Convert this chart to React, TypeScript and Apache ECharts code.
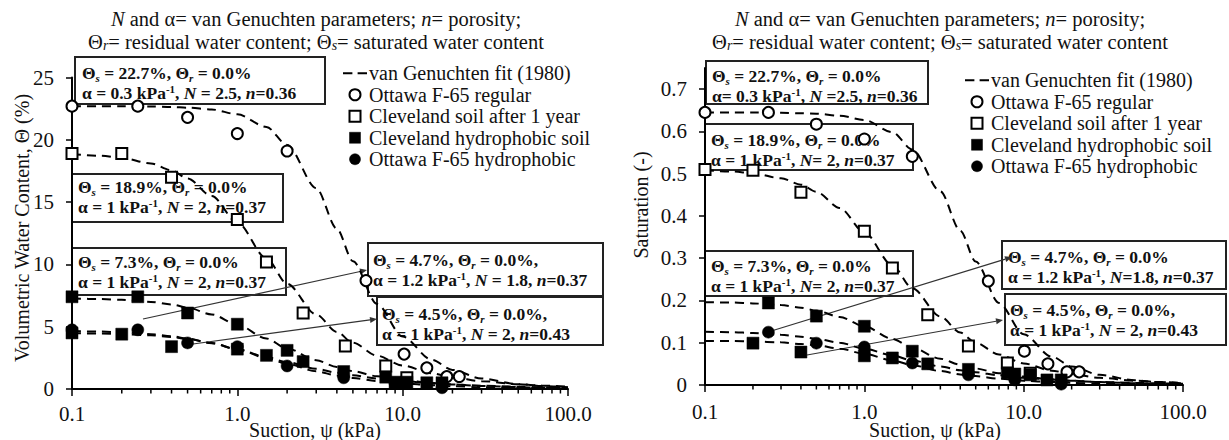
import React, { useEffect, useRef } from 'react';
import * as echarts from 'echarts';

const FONT = '"Liberation Serif", "Times New Roman", serif';

// ---------- data ----------
const FIT_SUCTION = [0.1, 0.15, 0.2, 0.3, 0.4, 0.5, 0.7, 1, 1.5, 2, 3, 4, 5, 7, 10, 15, 20, 30, 50, 70, 100];

const LEFT_FIT_A = [22.7, 22.69, 22.69, 22.67, 22.63, 22.58, 22.43, 22.05, 21.03, 19.59, 16.12, 12.86, 10.26, 6.83, 4.21, 2.34, 1.53, 0.84, 0.39, 0.24, 0.14];
const LEFT_FIT_B = [18.85, 18.72, 18.55, 18.1, 17.55, 16.9, 15.48, 13.36, 10.48, 8.45, 5.98, 4.58, 3.71, 2.67, 1.88, 1.26, 0.94, 0.63, 0.38, 0.27, 0.19];
const LEFT_FIT_C = [7.26, 7.22, 7.16, 6.99, 6.78, 6.53, 5.98, 5.16, 4.05, 3.26, 2.31, 1.77, 1.43, 1.03, 0.73, 0.49, 0.36, 0.24, 0.15, 0.1, 0.07];
const LEFT_FIT_D = [4.65, 4.61, 4.55, 4.4, 4.23, 4.05, 3.68, 3.19, 2.57, 2.15, 1.62, 1.31, 1.1, 0.85, 0.64, 0.46, 0.37, 0.27, 0.18, 0.14, 0.1];
const LEFT_FIT_E = [4.48, 4.45, 4.41, 4.31, 4.18, 4.02, 3.69, 3.18, 2.5, 2.01, 1.42, 1.09, 0.88, 0.64, 0.45, 0.3, 0.22, 0.15, 0.09, 0.06, 0.05];

const RIGHT_FIT_A = [0.645, 0.645, 0.645, 0.644, 0.643, 0.642, 0.637, 0.627, 0.598, 0.557, 0.458, 0.365, 0.292, 0.194, 0.12, 0.067, 0.044, 0.024, 0.011, 0.007, 0.004];
const RIGHT_FIT_B = [0.508, 0.505, 0.501, 0.489, 0.474, 0.457, 0.419, 0.361, 0.283, 0.229, 0.162, 0.124, 0.1, 0.072, 0.051, 0.034, 0.026, 0.017, 0.01, 0.007, 0.005];
const RIGHT_FIT_C = [0.196, 0.195, 0.193, 0.189, 0.183, 0.176, 0.161, 0.139, 0.109, 0.088, 0.062, 0.048, 0.039, 0.028, 0.02, 0.013, 0.01, 0.007, 0.004, 0.003, 0.002];
const RIGHT_FIT_D = [0.126, 0.125, 0.123, 0.119, 0.114, 0.109, 0.1, 0.086, 0.07, 0.058, 0.044, 0.035, 0.03, 0.023, 0.017, 0.013, 0.01, 0.007, 0.005, 0.004, 0.003];
const RIGHT_FIT_E = [0.104, 0.104, 0.103, 0.101, 0.097, 0.094, 0.086, 0.074, 0.058, 0.047, 0.033, 0.025, 0.021, 0.015, 0.01, 0.007, 0.005, 0.003, 0.002, 0.0015, 0.001];

const LEFT_OTTAWA_REG = [[0.1, 22.7], [0.25, 22.7], [0.5, 21.8], [1, 20.5], [2, 19.1], [6, 8.7], [10.2, 2.8], [14, 1.7], [18.5, 1.0], [22, 1.0]];
const LEFT_CLEVE_1YR = [[0.1, 18.9], [0.2, 18.9], [0.4, 17.0], [1, 13.6], [1.5, 10.2], [2.5, 6.1], [4.5, 3.45], [7.9, 1.85], [10.6, 0.9]];
const LEFT_CLEVE_HYD = [[0.1, 7.4], [0.25, 7.4], [0.5, 6.1], [1, 5.2], [2, 3.1], [2.5, 2.2], [0.1, 4.5], [0.2, 4.4], [0.4, 3.4], [1, 3.2], [1.5, 2.7], [4.4, 1.4], [7.9, 0.95], [9, 0.55], [10.6, 0.55], [14, 0.5], [17.3, 0.5]];
const LEFT_OTTAWA_HYD = [[0.1, 4.75], [0.25, 4.75], [0.5, 3.7], [1, 3.4], [2, 1.85], [4.4, 0.9], [9, 0.45], [17.3, 0.1]];

const RIGHT_OTTAWA_REG = [[0.1, 0.645], [0.25, 0.645], [0.5, 0.617], [1, 0.582], [2, 0.541], [6, 0.246], [10.1, 0.08], [14.2, 0.05], [18.7, 0.031], [22.3, 0.031]];
const RIGHT_CLEVE_1YR = [[0.1, 0.51], [0.2, 0.508], [0.4, 0.456], [1, 0.364], [1.5, 0.277], [2.5, 0.166], [4.5, 0.092], [7.9, 0.052], [11, 0.028]];
const RIGHT_CLEVE_HYD = [[0.25, 0.194], [0.5, 0.163], [1, 0.139], [2, 0.08], [2.5, 0.05], [0.2, 0.099], [0.4, 0.078], [1, 0.069], [1.5, 0.064], [4.5, 0.037], [7.9, 0.029], [8.8, 0.026], [11, 0.024], [14, 0.012], [17.2, 0.012]];
const RIGHT_OTTAWA_HYD = [[0.25, 0.125], [0.5, 0.099], [1, 0.09], [2, 0.052], [4.5, 0.024], [8.8, 0.012], [17.2, 0.002]];

const MINOR_TICKS = [0.2, 0.3, 0.4, 0.5, 0.6, 0.7, 0.8, 0.9, 2, 3, 4, 5, 6, 7, 8, 9, 20, 30, 40, 50, 60, 70, 80, 90];

const FIT_NAME = 'van Genuchten fit (1980)';
const NAME_OR = 'Ottawa F-65 regular';
const NAME_C1 = 'Cleveland soil after 1 year';
const NAME_CH = 'Cleveland hydrophobic soil';
const NAME_OH = 'Ottawa F-65 hydrophobic';

// ---------- styling helpers ----------
const INK = '#111';
const TF = 20.5;

const titleRich = {
  n: { fontFamily: FONT, fontSize: TF, lineHeight: 22, fill: INK, verticalAlign: 'middle' },
  i: { fontFamily: FONT, fontSize: TF, fontStyle: 'italic', lineHeight: 22, fill: INK, verticalAlign: 'middle' },
  s: { fontFamily: FONT, fontSize: 14, fontStyle: 'italic', lineHeight: 14, fill: INK, verticalAlign: 'bottom' },
};
const TITLE_L1 = '{i|N}{n| and α= van Genuchten parameters; }{i|n}{n|= porosity;}';
const TITLE_L2 = '{n|Θ}{s|r}{n|= residual water content; Θ}{s|s}{n|= saturated water content}';

const BF = 17.5;
const boxRich = {
  b: { fontFamily: FONT, fontSize: BF, fontWeight: 'bold', lineHeight: 20, fill: INK, verticalAlign: 'middle' },
  bi: { fontFamily: FONT, fontSize: BF, fontWeight: 'bold', fontStyle: 'italic', lineHeight: 20, fill: INK, verticalAlign: 'middle' },
  sub: { fontFamily: FONT, fontSize: 11, fontWeight: 'bold', fontStyle: 'italic', lineHeight: 11, fill: INK, verticalAlign: 'bottom' },
  sup: { fontFamily: FONT, fontSize: 11, fontWeight: 'bold', lineHeight: 11, fill: INK, verticalAlign: 'top' },
};

function boxText(l1: [string, string, string], a: string, nEq: string, nn: string, alphaEq = 'α = ') {
  return (
    `{b|Θ}{sub|s}{b| = ${l1[0]}, Θ}{sub|r}{b| = ${l1[1]}${l1[2]}}\n` +
    `{b|${alphaEq}${a} kPa}{sup|-1}{b|, }{bi|N}{b|${nEq}, }{bi|n}{b|=${nn}}`
  );
}

function box(x: number, y: number, w: number, h: number, tx: number, ty: number, text: string) {
  return [
    { type: 'rect', z: 0, silent: true, shape: { x, y, width: w, height: h }, style: { fill: 'none', stroke: '#222', lineWidth: 2 } },
    { type: 'text', z: 1, silent: true, x: tx, y: ty, style: { text, rich: boxRich, fontFamily: FONT, fontSize: BF, fontWeight: 'bold', fill: INK, textVerticalAlign: 'top' } },
  ];
}

function arrow(x1: number, y1: number, x2: number, y2: number) {
  const dx = x2 - x1, dy = y2 - y1, len = Math.hypot(dx, dy);
  const ux = dx / len, uy = dy / len;
  const bx = x2 - ux * 7, by = y2 - uy * 7, px = -uy, py = ux;
  return [
    { type: 'line', z: 3, silent: true, shape: { x1, y1, x2: bx, y2: by }, style: { stroke: '#333', lineWidth: 1.2 } },
    { type: 'polygon', z: 3, silent: true, shape: { points: [[x2, y2], [bx + px * 3, by + py * 3], [bx - px * 3, by - py * 3]] }, style: { fill: '#333' } },
  ];
}

function plainText(x: number, y: number, text: string, rotate = false, size = 20) {
  return {
    type: 'text', z: 1, silent: true, x, y, rotation: rotate ? Math.PI / 2 : 0,
    style: { text, fontFamily: FONT, fontSize: size, fill: INK, textAlign: 'center', textVerticalAlign: 'middle' },
  };
}

function richLine(x: number, y: number, text: string) {
  return {
    type: 'text', z: 1, silent: true, x, y,
    style: { text, rich: titleRich, fontFamily: FONT, fontSize: TF, fill: INK, textAlign: 'center', textVerticalAlign: 'middle' },
  };
}

function xAxis(gridIndex: number, margin: number) {
  return {
    type: 'log', logBase: 10, min: 0.1, max: 100, gridIndex,
    axisLine: { lineStyle: { color: '#000', width: 2 } },
    axisTick: { length: 7, lineStyle: { color: '#000', width: 1.5 } },
    axisLabel: { formatter: (v: number) => Number(v).toFixed(1), fontFamily: FONT, fontSize: 21, color: INK, margin },
    splitLine: { show: false },
    minorTick: { show: false },
  };
}

function yAxis(gridIndex: number, max: number, interval: number, fmt: (v: number) => string) {
  return {
    type: 'value', gridIndex, min: 0, max, interval,
    axisLine: { show: true, lineStyle: { color: '#000', width: 2 } },
    axisTick: { show: true, length: 6, lineStyle: { color: '#000', width: 1.5 } },
    axisLabel: { formatter: fmt, fontFamily: FONT, fontSize: 21, color: INK, margin: 18, showMaxLabel: max === 25 },
    splitLine: { show: false },
  };
}

function fitSeries(axis: number, values: number[]) {
  return {
    type: 'line', name: FIT_NAME, xAxisIndex: axis, yAxisIndex: axis,
    data: FIT_SUCTION.map((x, i) => [x, values[i]]),
    showSymbol: false, symbol: 'none', smooth: 0.3, smoothMonotone: 'x',
    lineStyle: { color: '#000', width: 2, type: [9, 6] }, itemStyle: { color: '#000' }, z: 3, silent: true,
  };
}

function scatter(axis: number, name: string, data: number[][], kind: 'oc' | 'os' | 'fs' | 'fc') {
  const open = kind === 'oc' || kind === 'os';
  return {
    type: 'scatter', name, xAxisIndex: axis, yAxisIndex: axis, data,
    symbol: kind === 'oc' || kind === 'fc' ? 'circle' : 'rect',
    symbolSize: open ? 11 : 12,
    itemStyle: open
      ? { color: '#fff', borderColor: '#000', borderWidth: 2, opacity: 1 }
      : { color: '#000', borderColor: '#000', borderWidth: 0.5, opacity: 1 },
    z: 4, silent: true,
  };
}

function minorTicks(axis: number) {
  return {
    type: 'custom', xAxisIndex: axis, yAxisIndex: axis, clip: false, silent: true, z: 5,
    data: MINOR_TICKS.map((v) => [v, 0]),
    renderItem: (_p: any, api: any) => {
      const p = api.coord([api.value(0), 0]);
      return { type: 'line', shape: { x1: p[0], y1: p[1], x2: p[0], y2: p[1] + 4.5 }, style: { stroke: '#000', lineWidth: 1.5 } };
    },
  };
}

const DASH_ICON = 'path://M0,0 L9,0 L9,2 L0,2 Z M14,0 L23,0 L23,2 L14,2 Z';
const SQUARE_ICON = 'path://M0,0 L10,0 L10,10 L0,10 Z';

function legend(left: number, top: number) {
  return {
    left, top, orient: 'vertical', itemWidth: 24, itemHeight: 11, itemGap: 0, selectedMode: false,
    textStyle: { fontFamily: FONT, fontSize: 20, color: INK, lineHeight: 21.5, padding: [0, 0, 0, -3] },
    data: [
      { name: FIT_NAME, icon: DASH_ICON, itemStyle: { color: '#000', borderWidth: 0 } },
      { name: NAME_OR, icon: 'circle', itemStyle: { color: '#fff', borderColor: '#000', borderWidth: 2 } },
      { name: NAME_C1, icon: SQUARE_ICON, itemStyle: { color: '#fff', borderColor: '#000', borderWidth: 2 } },
      { name: NAME_CH, icon: SQUARE_ICON, itemStyle: { color: '#000', borderColor: '#000', borderWidth: 0.5 } },
      { name: NAME_OH, icon: 'circle', itemStyle: { color: '#000', borderColor: '#000', borderWidth: 0.5 } },
    ],
  };
}

export default function App() {
  const ref = useRef<HTMLDivElement>(null);
  useEffect(() => {
    const chart = echarts.init(ref.current!, null, { renderer: 'svg' });
    const option: any = {
      animation: false,
      backgroundColor: '#fff',
      grid: [
        { left: 72, top: 77.5, width: 496, height: 311.5 },
        { left: 705, top: 68, width: 478, height: 317 },
      ],
      xAxis: [xAxis(0, 14), xAxis(1, 16)],
      yAxis: [
        yAxis(0, 25, 5, (v) => String(v)),
        yAxis(1, 0.75, 0.1, (v) => (v === 0 ? '0' : v.toFixed(1))),
      ],
      legend: [legend(338, 57.5), legend(960, 64.5)],
      series: [
        fitSeries(0, LEFT_FIT_A), fitSeries(0, LEFT_FIT_B), fitSeries(0, LEFT_FIT_C), fitSeries(0, LEFT_FIT_D), fitSeries(0, LEFT_FIT_E),
        fitSeries(1, RIGHT_FIT_A), fitSeries(1, RIGHT_FIT_B), fitSeries(1, RIGHT_FIT_C), fitSeries(1, RIGHT_FIT_D), fitSeries(1, RIGHT_FIT_E),
        scatter(0, NAME_OR, LEFT_OTTAWA_REG, 'oc'),
        scatter(0, NAME_C1, LEFT_CLEVE_1YR, 'os'),
        scatter(0, NAME_CH, LEFT_CLEVE_HYD, 'fs'),
        scatter(0, NAME_OH, LEFT_OTTAWA_HYD, 'fc'),
        scatter(1, NAME_OR, RIGHT_OTTAWA_REG, 'oc'),
        scatter(1, NAME_C1, RIGHT_CLEVE_1YR, 'os'),
        scatter(1, NAME_CH, RIGHT_CLEVE_HYD, 'fs'),
        scatter(1, NAME_OH, RIGHT_OTTAWA_HYD, 'fc'),
        minorTicks(0), minorTicks(1),
      ],
      graphic: {
        elements: [
          richLine(316, 19, TITLE_L1),
          richLine(316, 41.5, TITLE_L2),
          richLine(940, 19, TITLE_L1),
          richLine(940, 41.5, TITLE_L2),
          plainText(22, 228, 'Volumetric Water Content, Θ (%)', true),
          plainText(641, 205, 'Saturation (-)', true),
          plainText(315, 430, 'Suction, ψ (kPa)'),
          plainText(935, 430, 'Suction, ψ (kPa)'),
          // left boxes
          ...box(75, 57, 250, 47, 82, 63, boxText(['22.7%', '0.0%', ''], '0.3', ' = 2.5', '0.36')),
          ...box(72, 174, 211, 48, 78, 177, boxText(['18.9%', '0.0%', ''], '1', ' = 2', '0.37')),
          ...box(72, 248, 214, 47, 78, 252, boxText(['7.3%', '0.0%', ''], '1', ' = 2', '0.37')),
          ...box(368, 243, 235, 53, 373, 250, boxText(['4.7%', '0.0%', ','], '1.2', ' = 1.8', '0.37')),
          ...box(377, 297, 226, 48, 382, 304, boxText(['4.5%', '0.0%', ','], '1', ' = 2', '0.43')),
          // right boxes
          ...box(706, 61, 222, 43, 712, 66, boxText(['22.7%', '0.0%', ''], '0.3', ' =2.5', '0.36', 'α= ')),
          ...box(705, 124, 208, 46, 711, 130, boxText(['18.9%', '0.0%', ''], '1', '= 2', '0.37')),
          ...box(705, 251, 208, 45, 711, 256, boxText(['7.3%', '0.0%', ''], '1', '= 2', '0.37')),
          ...box(1002, 241, 224, 48, 1008, 247, boxText(['4.7%', '0.0%', ''], '1.2', '=1.8', '0.37')),
          ...box(1005, 294, 221, 51, 1010, 300, boxText(['4.5%', '0.0%', ','], '1', ' = 2', '0.43')),
          // leader arrows
          ...arrow(143, 319, 367, 270),
          ...arrow(193, 344, 377, 319),
          ...arrow(768, 332, 1012, 257),
          ...arrow(807, 355, 1003, 320),
        ],
      },
    };
    chart.setOption(option);
    return () => chart.dispose();
  }, []);
  return <div ref={ref} style={{ position: 'absolute', left: 0, top: 0, width: 1229, height: 440, background: '#fff' }} />;
}
